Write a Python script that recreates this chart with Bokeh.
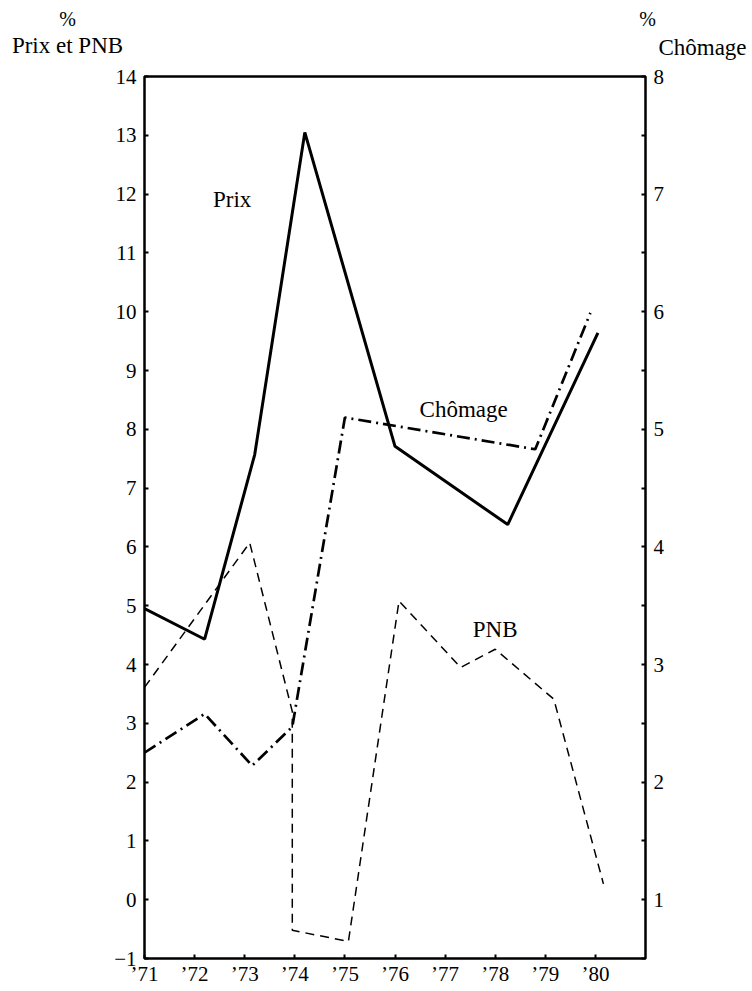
from bokeh.plotting import figure
from bokeh.models import Range1d, LinearAxis, FixedTicker, Label
from bokeh.layouts import column
from bokeh.embed import file_html
from bokeh.resources import INLINE

# ---- data ----
years = [71, 72, 73, 74, 75, 76, 77, 78, 79, 80]
year_labels = ["’71", "’72", "’73", "’74", "’75", "’76", "’77", "’78", "’79", "’80"]

prix_x = [71.0, 72.2, 73.2, 74.2, 76.0, 78.25, 80.05]
prix = [4.95, 4.43, 7.57, 13.05, 7.71, 6.38, 9.64]

chom_x = [71.0, 72.2, 73.15, 73.95, 75.0, 78.8, 79.9]
chom = [2.25, 2.58, 2.14, 2.47, 5.1, 4.83, 5.99]

pnb_x = [71.0, 73.1, 73.95, 73.95, 75.07, 76.08, 77.31, 78.0, 79.17, 80.16]
pnb = [3.61, 6.07, 3.2, -0.52, -0.71, 5.08, 3.95, 4.26, 3.41, 0.27]

left_ticks = list(range(-1, 15))
right_ticks = list(range(1, 9))
right_minor = [0.5 + i for i in range(0, 8)]

FONT = "Liberation Serif"
W = 750
HEAD = 66

# ---- header strip holding the axis titles ----
head = figure(width=W, height=HEAD, output_backend="svg", toolbar_location=None,
              x_range=Range1d(0, W), y_range=Range1d(HEAD, 0),
              x_axis_type=None, y_axis_type=None,
              min_border_left=0, min_border_right=0, min_border_top=0, min_border_bottom=0)
head.frame_align = False
head.grid.visible = False
head.outline_line_color = None
head.background_fill_color = "white"
head.border_fill_color = "white"

def hlab(x, y, t, size="23px"):
    head.add_layout(Label(x=x, y=y, text=t, text_font=FONT, text_font_size=size,
                          text_align="center", text_baseline="middle", text_color="black"))

hlab(67, 18, "%", size="20px")
hlab(67, 45, "Prix et PNB")
hlab(647, 18, "%", size="20px")
hlab(702, 47, "Chômage")

# ---- main chart ----
p = figure(width=W, height=988 - HEAD, output_backend="svg", toolbar_location=None,
           x_range=Range1d(71, 81), y_range=Range1d(-1, 14),
           min_border_left=144, min_border_right=W - 645, min_border_top=76 - HEAD,
           min_border_bottom=27)
p.frame_align = False
p.extra_y_ranges = {"right": Range1d(0.5, 8)}
p.grid.visible = False
p.background_fill_color = "white"
p.border_fill_color = "white"
p.outline_line_color = "black"
p.outline_line_width = 2.5

xa = p.xaxis[0]
xa.ticker = FixedTicker(ticks=years)
xa.major_label_overrides = {y: l for y, l in zip(years, year_labels)}
ya = p.yaxis[0]
ya.ticker = FixedTicker(ticks=left_ticks)
ra = LinearAxis(y_range_name="right", ticker=FixedTicker(ticks=right_ticks, minor_ticks=right_minor))
p.add_layout(ra, "right")

for ax in [xa, ya, ra]:
    ax.axis_line_color = None
    ax.major_tick_in = 4
    ax.major_tick_out = 0
    ax.major_tick_line_width = 2
    ax.major_tick_line_color = "black"
    ax.minor_tick_line_color = None
    ax.major_label_text_font = FONT
    ax.major_label_text_font_size = "21px"
    ax.major_label_text_color = "black"
    ax.major_label_standoff = 8
xa.major_label_standoff = 3
ra.minor_tick_line_color = "black"
ra.minor_tick_line_width = 2
ra.minor_tick_in = 4
ra.minor_tick_out = 0

p.line(prix_x, prix, line_color="black", line_width=3)
p.line(chom_x, chom, y_range_name="right", line_color="black", line_width=2.7,
       line_dash="13 5 2 5")
p.line(pnb_x, pnb, line_color="black", line_width=1.5, line_dash="9 6")

def lab(x, y, t, size="23px"):
    p.add_layout(Label(x=x, y=y, text=t, text_font=FONT, text_font_size=size,
                       text_align="center", text_baseline="middle", text_color="black"))

lab(72.75, 11.9, "Prix")
lab(77.37, 8.33, "Chômage")
lab(78.0, 4.6, "PNB")

layout = column(head, p, spacing=0)
open("out.html", "w").write(file_html(layout, INLINE))
